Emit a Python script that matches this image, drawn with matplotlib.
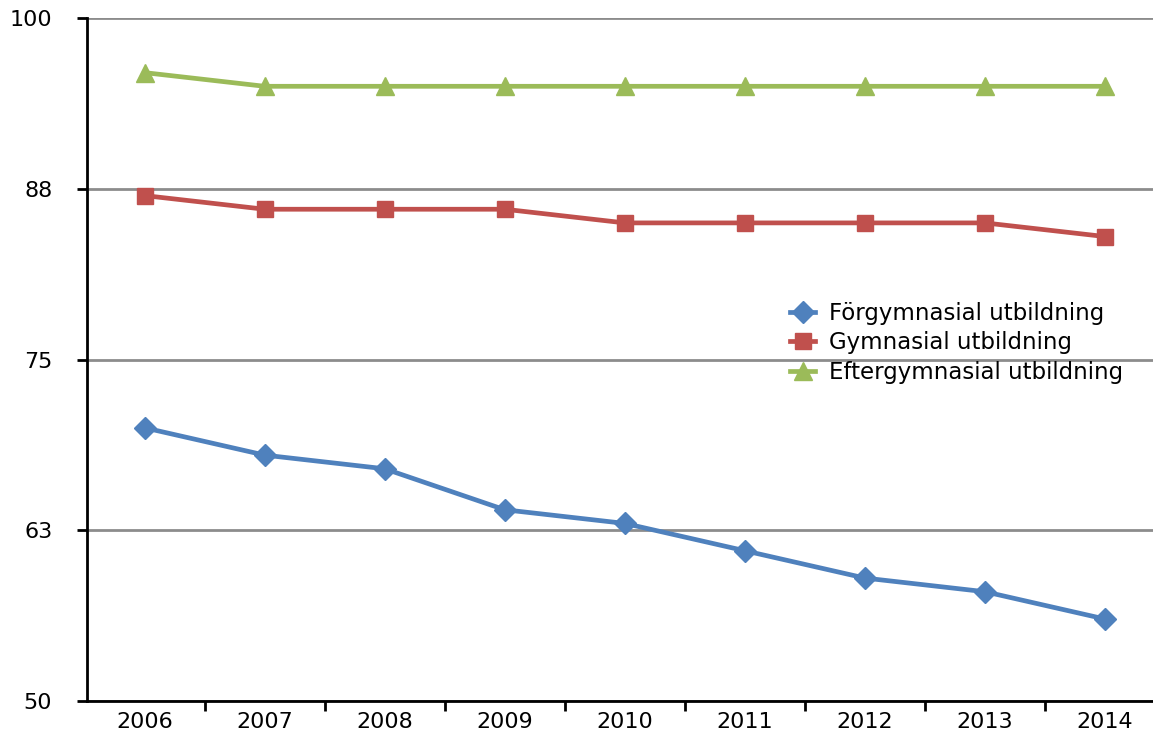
import matplotlib.pyplot as plt

years = ["2006", "2007", "2008", "2009", "2010", "2011", "2012", "2013", "2014"]
forgymnasial = [70, 68, 67, 64, 63, 61, 59, 58, 56]
gymnasial = [87, 86, 86, 86, 85, 85, 85, 85, 84]
eftergymnasial = [96, 95, 95, 95, 95, 95, 95, 95, 95]
yticks = [50, 62.5, 75, 87.5, 100]
ytick_labels = ["50", "63", "75", "88", "100"]

plt.rcParams['font.family'] = ['DejaVu Sans']

fig = plt.figure(figsize=(11.53, 7.42), dpi=100)
ax = fig.add_axes([87 / 1153, 41 / 742, 1 - 87 / 1153, 683 / 742])

x = range(len(years))
ax.plot(x, forgymnasial, color='#4F81BD', lw=3.4, marker='D', ms=11,
        label='Förgymnasial utbildning', zorder=3)
ax.plot(x, gymnasial, color='#C0504D', lw=3.4, marker='s', ms=12,
        label='Gymnasial utbildning', zorder=3)
ax.plot(x, eftergymnasial, color='#9BBB59', lw=3.4, marker='^', ms=13,
        label='Eftergymnasial utbildning', zorder=3)

ax.set_yticks(yticks)
ax.set_yticklabels(ytick_labels)
ax.set_xticks(x)
ax.set_xticklabels(years)
ax.set_xticks([i - 0.5 for i in range(1, len(years))], minor=True)
ax.set_ylim(50, 100)
ax.set_xlim(-0.48, (1153 - 145) / 120)

ax.grid(axis='y', color='#8c8c8c', lw=2)
ax.set_axisbelow(True)
for s in ['top', 'right']:
    ax.spines[s].set_visible(False)
for s in ['left', 'bottom']:
    ax.spines[s].set_linewidth(2)
    ax.spines[s].set_color('black')

ax.tick_params(axis='y', length=7, width=2, labelsize=16, pad=18)
ax.tick_params(axis='x', which='major', length=0, labelsize=16, pad=8)
ax.tick_params(axis='x', which='minor', length=7, width=2)

ax.legend(loc='center left', bbox_to_anchor=(790 / 1153, 1 - 343 / 742),
          bbox_transform=fig.transFigure, frameon=False, fontsize=16.5,
          handlelength=1.1, handletextpad=0.6, labelspacing=0.3,
          borderaxespad=0, borderpad=0)

fig.savefig("out.png", dpi=100)
